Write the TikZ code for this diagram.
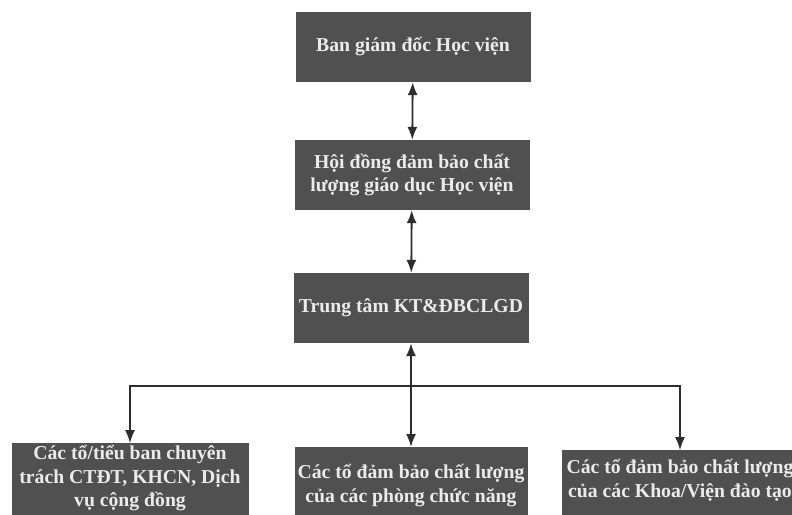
\documentclass[tikz,border=0pt]{standalone}
\usepackage{fontspec}
\setmainfont{Liberation Serif}
\usetikzlibrary{positioning, arrows.meta}
\definecolor{boxgray}{RGB}{80,80,80}
\definecolor{linegray}{RGB}{45,45,45}
\tikzset{
unit box/.style={fill=boxgray, text=white!92!black, align=center, inner xsep=0pt,
  font=\bfseries\fontsize{19.7}{23.5}\selectfont}, % the dark boxes of the chart
top box/.style={unit box, inner ysep=0pt, minimum width=235pt, minimum height=70pt}, % the three upper levels
link/.style={draw=linegray, line width=1.8pt, {Latex[length=13pt,width=10pt]}-{Latex[length=13pt,width=10pt]}}, % two-way arrows
}

\begin{document}
\begin{tikzpicture}[x=1pt, y=-1pt]
        \clip (0,0) rectangle (792,514);
        \fill[white] (0,0) rectangle (792,514);
        % upper levels
        \node[top box] (bgd) at (413,47) {Ban giám đốc Học viện};
        \node[top box] (hd) at (412,175) {Hội đồng đảm bảo chất\\lượng giáo dục Học viện};
        \node[top box] (tt) at (411,308) {Trung tâm KT\&ĐBCLGD};
        % bottom row, cut by the page edge
        \node[unit box, anchor=north, minimum width=237pt, inner ysep=2pt, text depth=12pt] (cv) at (130,443)
        {Các tổ/tiểu ban chuyên\\trách CTĐT, KHCN, Dịch\\vụ cộng đồng};
        \node[unit box, anchor=north, minimum width=233pt, inner ysep=17pt, text depth=12pt] (pcn) at (411,447)
        {Các tổ đảm bảo chất lượng\\của các phòng chức năng};
        \node[unit box, anchor=north, minimum width=236pt, inner ysep=9pt, text depth=25pt] (kv) at (680,450)
        {Các tổ đảm bảo chất lượng\\của các Khoa/Viện đào tạo};
        \coordinate (bus) at (411,386);
        % arrows
        \draw[link] (bgd) -- (hd);
        \draw[link] (hd) -- (tt);
        \draw[link] (tt) -- (pcn);
        \draw[link, line width=1.4pt] (cv.north) |- (bus) -| (kv.north);
\end{tikzpicture}
\end{document}
